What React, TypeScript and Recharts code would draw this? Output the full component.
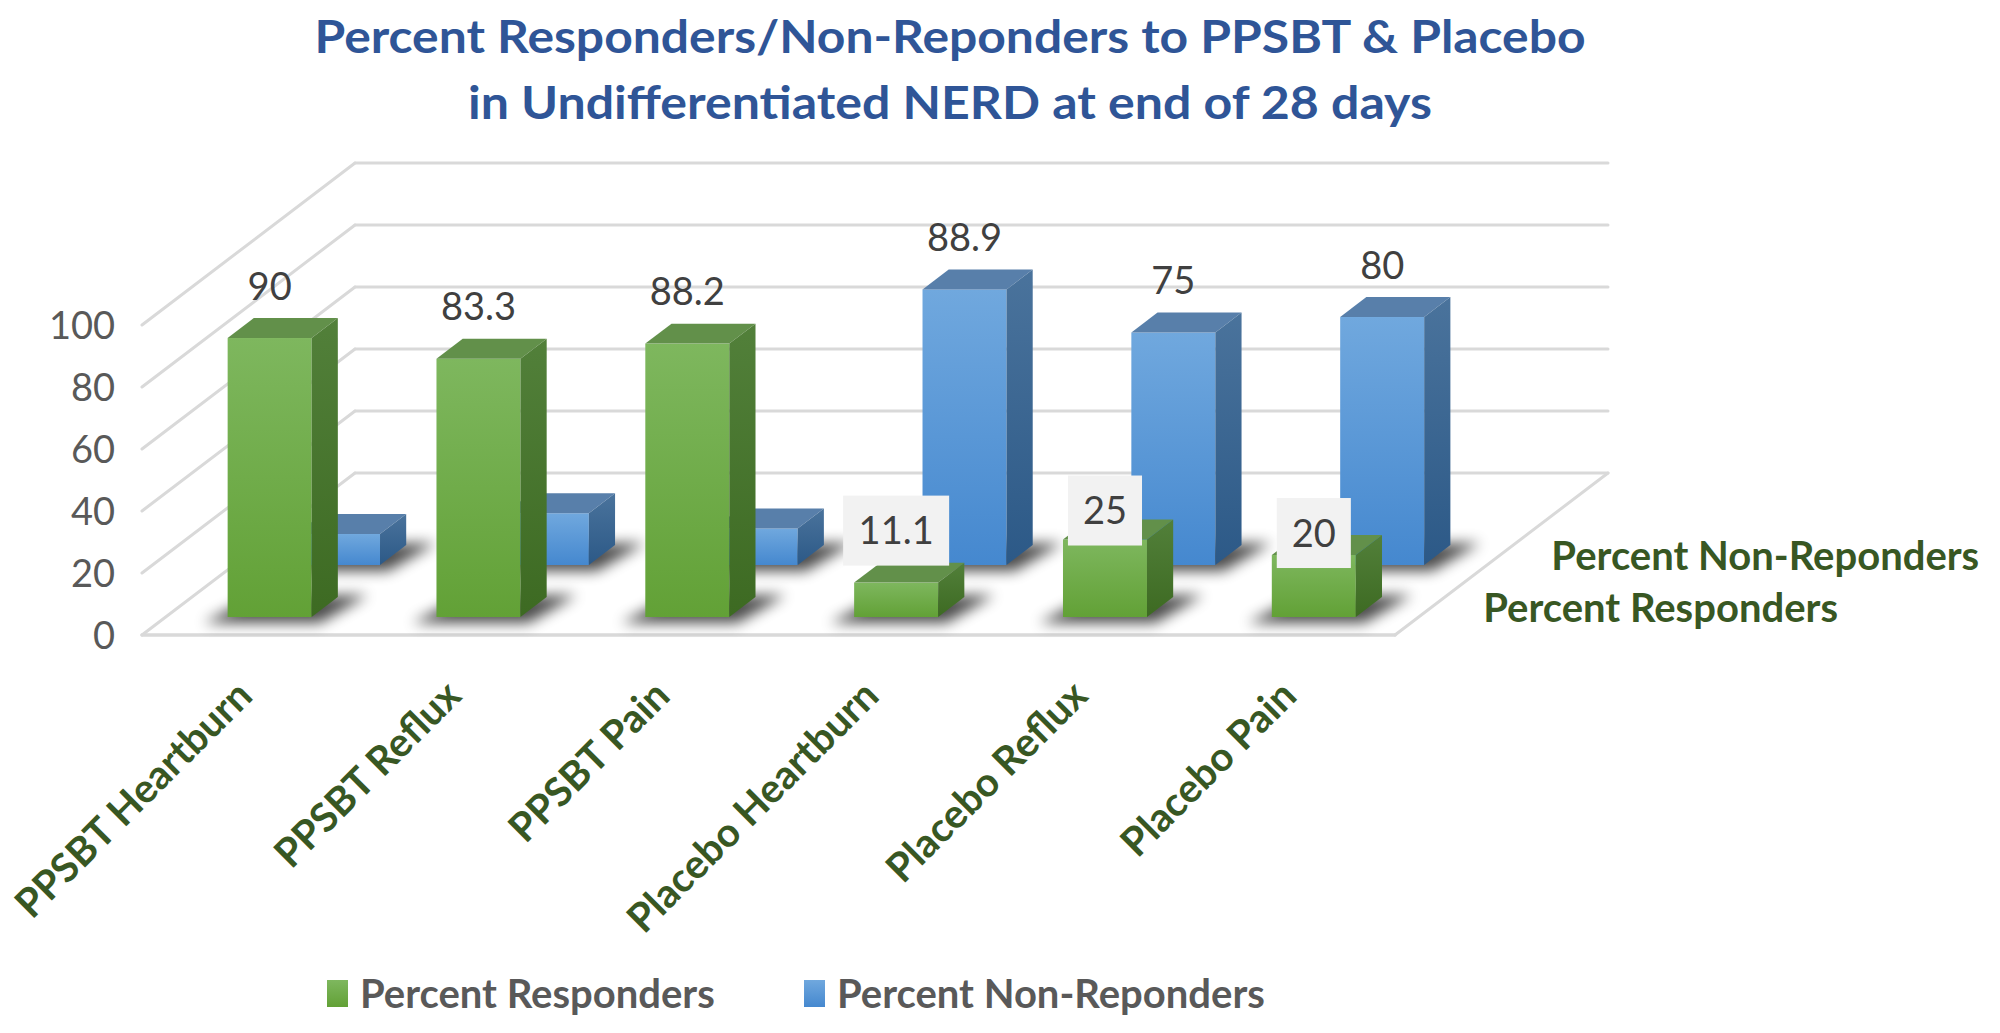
import React from 'react';
import { BarChart, Bar, XAxis, YAxis, CartesianGrid, Legend } from 'recharts';

// ---------- data ----------
const categories = [
  'PPSBT Heartburn',
  'PPSBT Reflux',
  'PPSBT Pain',
  'Placebo Heartburn',
  'Placebo Reflux',
  'Placebo Pain',
];
const responders = [90, 83.3, 88.2, 11.1, 25, 20];
const nonResponders = [10, 16.7, 11.8, 88.9, 75, 80];
const yTicks = [0, 20, 40, 60, 80, 100];
const seriesNames = ['Percent Responders', 'Percent Non-Reponders'];
const titleLines = [
  'Percent Responders/Non-Reponders to PPSBT & Placebo',
  'in Undifferentiated NERD at end of 28 days',
];

const data = categories.map((c, i) => ({
  category: c,
  responders: responders[i],
  nonResponders: nonResponders[i],
}));

// ---------- layout / style ----------
const W = 2000;
const H = 1033;
const PLOT = { left: 142, right: 1395, top: 325, bottom: 635 };
const Y_AXIS_W = 60;
const X_AXIS_H = 30;
const DEPTH = { dx: 213, dy: -162 };
const ROWS: Record<string, { front: number; thick: number; center: number }> = {
  responders: { front: 0.111, thick: 0.123, center: 0.17 },
  nonResponders: { front: 0.432, thick: 0.123, center: 0.49 },
};
const FONT = 'Lato, "Open Sans", "DejaVu Sans", sans-serif';
const GRID = '#D9D9D9';
const GREEN_TEXT = '#385723';
const LABEL_NUDGE: Record<number, number> = { 4: 23, 5: 30 };

const COLORS = {
  responders: { front: 'url(#gFront)', side: 'url(#gSide)', top: '#62904A', legend: '#70AD47' },
  nonResponders: { front: 'url(#bFront)', side: 'url(#bSide)', top: '#587FAA', legend: '#5B9BD5' },
};

const textWidth = (s: string, size: number) => {
  let w = 0;
  for (const ch of s) w += ch === '.' ? 0.26 * size : 0.58 * size;
  return w;
};

function makeShape(key: 'responders' | 'nonResponders') {
  return (props: any) => {
    const { x, y, width, height, index, payload } = props;
    if (x == null || y == null) return null;
    const r = ROWS[key];
    const c = COLORS[key];
    const ox = DEPTH.dx * r.front;
    const oy = DEPTH.dy * r.front;
    const tx = DEPTH.dx * r.thick;
    const ty = DEPTH.dy * r.thick;
    const fx = x + ox;
    const fy = y + oy;
    const fw = width;
    const fh = Math.max(height, 0);
    const base = fy + fh;

    const value = payload[key];
    const other = key === 'responders' ? payload.nonResponders : payload.responders;
    const showLabel = key === 'responders' || value > other;
    const boxed = key === 'responders' && value < other;
    const label = String(value);
    const cx = fx + fw / 2;
    const cy = fy - 52 + (key === 'responders' && boxed ? LABEL_NUDGE[index] || 0 : 0);
    const tw = textWidth(label, 38);

    return (
      <g>
        <polygon
          points={`${fx - 24},${base + 6} ${fx + fw + 8},${base + 6} ${fx + fw + tx + 30},${base + ty - 2} ${fx + tx},${base + ty}`}
          fill="#000"
          opacity={0.7}
          filter="url(#shadowBlur)"
        />
        <rect x={fx} y={fy} width={fw} height={fh} fill={c.front} />
        <polygon
          points={`${fx},${fy} ${fx + fw},${fy} ${fx + fw + tx},${fy + ty} ${fx + tx},${fy + ty}`}
          fill={c.top}
        />
        <polygon
          points={`${fx + fw},${fy} ${fx + fw + tx},${fy + ty} ${fx + fw + tx},${base + ty} ${fx + fw},${base}`}
          fill={c.side}
        />
        {showLabel && boxed && (
          <rect x={cx - tw / 2 - 15} y={cy - 35} width={tw + 30} height={70} fill="#F2F2F2" />
        )}
        {showLabel && (
          <text
            x={cx}
            y={cy}
            dy="0.36em"
            textAnchor="middle"
            fontFamily={FONT}
            fontSize={38}
            fill="#404040"
          >
            {label}
          </text>
        )}
      </g>
    );
  };
}

const greenShape = makeShape('responders');
const blueShape = makeShape('nonResponders');

const gridLine = (p: any) => {
  const { x1, y1, x2 } = p;
  const bottom = p.y != null && p.height != null ? p.y + p.height : PLOT.bottom;
  const isFloor = Math.abs(y1 - bottom) < 0.5;
  const bx1 = x1 + DEPTH.dx;
  const bx2 = x2 + DEPTH.dx;
  const by = y1 + DEPTH.dy;
  const stroke = { stroke: GRID, strokeWidth: 3, strokeLinecap: 'round' as const };
  return (
    <g key={`g-${p.index}`}>
      <line x1={x1} y1={y1} x2={bx1} y2={by} {...stroke} />
      <line x1={bx1} y1={by} x2={bx2} y2={by} {...stroke} />
      {isFloor && (
        <g>
          <line x1={x1} y1={y1} x2={x2} y2={y1} {...stroke} strokeWidth={3.5} />
          <line x1={x2} y1={y1} x2={bx2} y2={by} {...stroke} />
          {(['nonResponders', 'responders'] as const).map((k, i) => {
            const t = ROWS[k].center;
            return (
              <text
                key={k}
                x={x2 + DEPTH.dx * t + 52}
                y={y1 + DEPTH.dy * t}
                dy="0.36em"
                fontFamily={FONT}
                fontWeight={700}
                fontSize={40}
                fill={GREEN_TEXT}
              >
                {seriesNames[k === 'responders' ? 0 : 1]}
              </text>
            );
          })}
        </g>
      )}
    </g>
  );
};

const XTick = (p: any) => {
  const { x, payload } = p;
  const ax = x + 8;
  const ay = PLOT.bottom + 63;
  return (
    <text
      x={ax}
      y={ay}
      transform={`rotate(-45 ${ax} ${ay})`}
      textAnchor="end"
      fontFamily={FONT}
      fontWeight={700}
      fontSize={40}
      fill={GREEN_TEXT}
    >
      {payload.value}
    </text>
  );
};

const YTick = (p: any) => {
  const { y, payload } = p;
  return (
    <text
      x={PLOT.left - 27}
      y={y}
      dy="0.36em"
      textAnchor="end"
      fontFamily={FONT}
      fontSize={38}
      fill="#595959"
    >
      {payload.value}
    </text>
  );
};

const LegendContent = () => {
  const items = [
    { name: seriesNames[0], color: 'linear-gradient(#7EB75E, #62A136)', left: 327 },
    { name: seriesNames[1], color: 'linear-gradient(#70A8DE, #4588CF)', left: 804 },
  ];
  return (
    <div style={{ position: 'relative', width: W, height: 66 }}>
      {items.map((it) => (
        <div
          key={it.name}
          style={{
            position: 'absolute',
            left: it.left,
            top: 0,
            height: 66,
            display: 'flex',
            alignItems: 'center',
          }}
        >
          <span style={{ display: 'inline-block', width: 21, height: 27, background: it.color }} />
          <span
            style={{
              marginLeft: 12,
              fontFamily: FONT,
              fontWeight: 700,
              fontSize: 40,
              color: '#595959',
              lineHeight: '66px',
              whiteSpace: 'nowrap',
            }}
          >
            {it.name}
          </span>
        </div>
      ))}
    </div>
  );
};

export default function App() {
  return (
    <div style={{ position: 'absolute', left: 0, top: 0, width: W, height: H, background: '#fff', fontFamily: FONT }}>
      <svg width={0} height={0} style={{ position: 'absolute' }}>
        <defs>
          <linearGradient id="gFront" x1="0" y1="0" x2="0" y2="1">
            <stop offset="0%" stopColor="#7EB75E" />
            <stop offset="100%" stopColor="#62A136" />
          </linearGradient>
          <linearGradient id="gSide" x1="0" y1="0" x2="0" y2="1">
            <stop offset="0%" stopColor="#52803A" />
            <stop offset="100%" stopColor="#3D6A22" />
          </linearGradient>
          <linearGradient id="bFront" x1="0" y1="0" x2="0" y2="1">
            <stop offset="0%" stopColor="#70A8DE" />
            <stop offset="100%" stopColor="#4588CF" />
          </linearGradient>
          <linearGradient id="bSide" x1="0" y1="0" x2="0" y2="1">
            <stop offset="0%" stopColor="#4A739C" />
            <stop offset="100%" stopColor="#2C5987" />
          </linearGradient>
          <filter id="shadowBlur" x="-50%" y="-100%" width="200%" height="300%">
            <feGaussianBlur stdDeviation="7" />
          </filter>
        </defs>
      </svg>
      <BarChart
        width={W}
        height={H}
        data={data}
        margin={{
          top: PLOT.top,
          left: PLOT.left - Y_AXIS_W,
          right: W - PLOT.right,
          bottom: H - PLOT.bottom - X_AXIS_H,
        }}
      >
        <CartesianGrid xAxisId="front" vertical={false} horizontal={gridLine} />
        <XAxis
          xAxisId="front"
          dataKey="category"
          height={X_AXIS_H}
          axisLine={false}
          tickLine={false}
          interval={0}
          tick={XTick}
        />
        <XAxis xAxisId="back" dataKey="category" hide />
        <YAxis
          domain={[0, 100]}
          ticks={yTicks}
          width={Y_AXIS_W}
          axisLine={false}
          tickLine={false}
          interval={0}
          tick={YTick}
        />
        <Bar
          xAxisId="back"
          dataKey="nonResponders"
          name={seriesNames[1]}
          barSize={84}
          isAnimationActive={false}
          shape={blueShape}
          fill="#5B9BD5"
        />
        <Bar
          xAxisId="front"
          dataKey="responders"
          name={seriesNames[0]}
          barSize={84}
          isAnimationActive={false}
          shape={greenShape}
          fill="#70AD47"
        />
        <Legend
          layout="horizontal"
          verticalAlign="middle"
          align="center"
          wrapperStyle={{ top: 960, left: 0, width: W, height: 66 }}
          content={LegendContent}
        />
      </BarChart>
      <svg width={W} height={140} style={{ position: 'absolute', left: 0, top: 0, pointerEvents: 'none' }}>
        {titleLines.map((t, i) => (
          <text
            key={i}
            x={950}
            y={i === 0 ? 53 : 119}
            textAnchor="middle"
            fontFamily={FONT}
            fontWeight={700}
            fontSize={45}
            fill="#2F5597"
            textLength={i === 0 ? 1271 : 964}
            lengthAdjust="spacingAndGlyphs"
          >
            {t}
          </text>
        ))}
      </svg>
    </div>
  );
}
